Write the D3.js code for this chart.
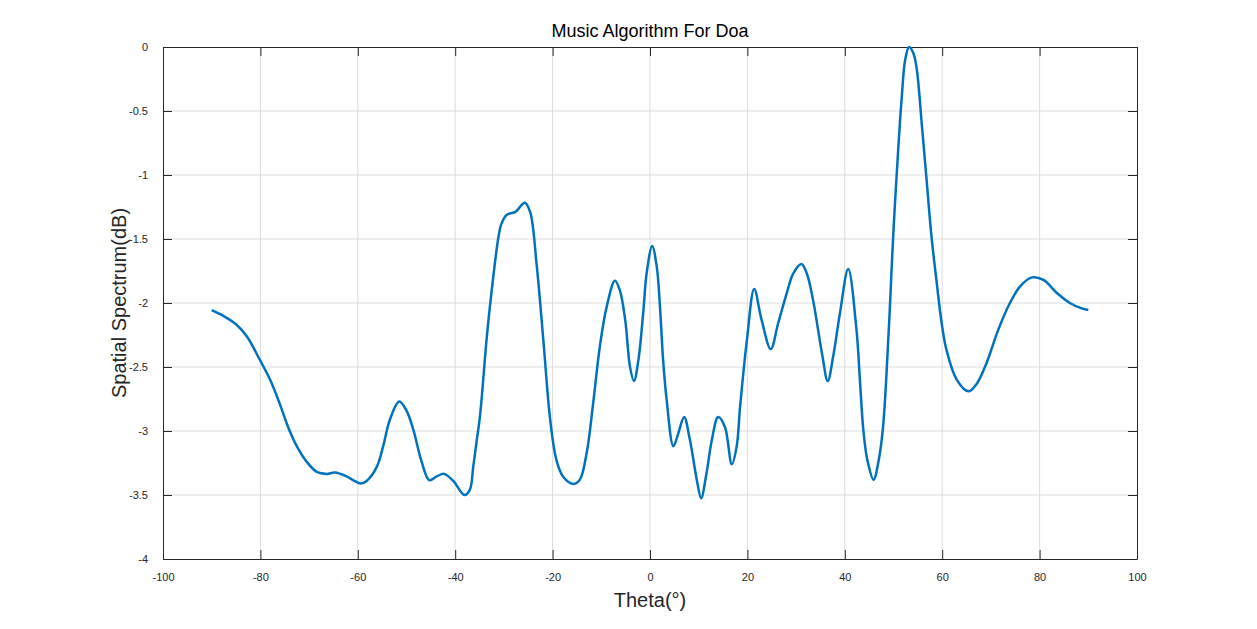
<!DOCTYPE html>
<html>
<head>
<meta charset="utf-8">
<script src="https://cdn.jsdelivr.net/npm/d3@7"></script>
<style>
  body { margin: 0; background: #fff; }
  text { font-family: "Liberation Sans", Arial, sans-serif; }
</style>
</head>
<body>
<div id="chart"></div>
<script>
// spectrum values (theta in degrees, value in dB)
const theta = [-90, -87.6, -84.9, -82.8, -80.1, -78, -76, -74.3, -72.5, -70.5, -68.4, -66.4, -64.7, -62.3,
  -60.9, -59.4, -58.2, -56.1, -54.8, -53.4, -51.5, -50, -48.6, -46.9, -45.3, -43.8, -42.3, -40.4, -38.1,
  -37, -36.3, -35.6, -34.9, -33.5, -32.5, -31.1, -30.5, -29.4, -27.7, -25.7, -24.6, -23.3, -21.9, -20.5,
  -19.2, -17.8, -15.7, -14.4, -13, -11.6, -10.3, -8.9, -7.2, -6.2, -5.1, -4.1, -3.3, -2.4, -1.4, -0.7,
  0.45, 1.4, 2.05, 2.7, 3.4, 4.8, 5.8, 7, 8.2, 9.6, 10.5, 11.6, 12.7, 14, 15.4, 16.8, 17.8, 18.5, 19.9,
  21.4, 22.9, 24.8, 26.3, 28.1, 29.4, 31.1, 32.2, 33.5, 35.3, 36.5, 37.6, 39, 40.7, 42.4, 43.1, 43.8,
  44.6, 45.9, 47.0, 47.8, 48.5, 49.2, 50, 51, 51.7, 52.4, 53.2, 54.1, 54.8, 55.8, 56.8, 57.8, 58.9, 59.9,
  60.9, 63, 65.4, 67.1, 69.1, 71.5, 73.9, 76, 78.4, 80.8, 83.5, 86.2, 88.5, 90];
const spectrum = [-2.055, -2.1, -2.17, -2.26, -2.445, -2.6, -2.79, -2.97, -3.12, -3.24, -3.32, -3.335, -3.325, -3.355,
  -3.385, -3.41, -3.39, -3.28, -3.12, -2.91, -2.77, -2.84, -2.99, -3.24, -3.385, -3.355, -3.335, -3.39, -3.5,
  -3.46, -3.28, -3.08, -2.88, -2.26, -1.9, -1.48, -1.38, -1.31, -1.29, -1.216, -1.29, -1.69, -2.29, -2.91,
  -3.23, -3.36, -3.414, -3.38, -3.17, -2.76, -2.34, -2.03, -1.826, -1.9, -2.13, -2.5, -2.61, -2.45, -2.08, -1.77,
  -1.555, -1.72, -2.03, -2.45, -2.75, -3.12, -3.02, -2.89, -3.07, -3.38, -3.525, -3.33, -3.07, -2.89, -2.97, -3.26, -3.12, -2.81, -2.29,
  -1.89, -2.13, -2.36, -2.16, -1.92, -1.77, -1.695, -1.77, -1.98, -2.39, -2.61, -2.42, -2.08, -1.735, -2.21, -2.6, -2.99,
  -3.22, -3.38, -3.22, -2.99, -2.6, -2.08, -1.43, -0.78, -0.39, -0.1, 0, -0.05, -0.18, -0.6, -1.04, -1.48, -1.85, -2.16,
  -2.37, -2.6, -2.69, -2.63, -2.47, -2.21, -2.0, -1.87, -1.8, -1.82, -1.92, -2.0, -2.04, -2.055];
const xTicks = [-100, -80, -60, -40, -20, 0, 20, 40, 60, 80, 100];
const yTicks = [0, -0.5, -1, -1.5, -2, -2.5, -3, -3.5, -4];

const W = 1257, H = 629;
const margin = { top: 47, right: 120, bottom: 70, left: 163 };
const width = W - margin.left - margin.right,
  height = H - margin.top - margin.bottom;

const data = theta.map((t, i) => ({ t: t, v: spectrum[i] }));

const svg = d3.select("#chart").append("svg")
  .attr("width", W)
  .attr("height", H);

const g = svg.append("g")
  .attr("transform", "translate(" + margin.left + "," + margin.top + ")");

const x = d3.scaleLinear().domain([-100, 100]).range([0, width]);
const y = d3.scaleLinear().domain([-4, 0]).range([height, 0]);

// grid
g.append("g").selectAll("line")
  .data(xTicks.slice(1, -1))
  .enter().append("line")
  .attr("x1", d => x(d)).attr("x2", d => x(d))
  .attr("y1", 0).attr("y2", height)
  .attr("stroke", "#dcdcdc").attr("stroke-width", 1);
g.append("g").selectAll("line")
  .data(yTicks.slice(1, -1))
  .enter().append("line")
  .attr("x1", 0).attr("x2", width)
  .attr("y1", d => y(d)).attr("y2", d => y(d))
  .attr("stroke", "#dcdcdc").attr("stroke-width", 1);

// axes with inward ticks on all sides
const tickLen = 9;
function styleAxis(sel) {
  sel.select(".domain").attr("stroke", "#262626");
  sel.selectAll(".tick line").attr("stroke", "#262626");
  sel.selectAll(".tick text").attr("fill", "#262626").style("font-size", "11px");
}
g.append("g")
  .attr("transform", "translate(0," + height + ")")
  .call(d3.axisBottom(x).tickValues(xTicks).tickSize(-tickLen).tickPadding(14).tickSizeOuter(0).tickFormat(d => String(d)))
  .call(styleAxis);
g.append("g")
  .call(d3.axisLeft(y).tickValues(yTicks).tickSize(-tickLen).tickPadding(15).tickSizeOuter(0).tickFormat(d => String(d)))
  .call(styleAxis);
g.append("g")
  .call(d3.axisTop(x).tickValues(xTicks).tickSize(-tickLen).tickSizeOuter(0).tickFormat(""))
  .call(styleAxis);
g.append("g")
  .attr("transform", "translate(" + width + ",0)")
  .call(d3.axisRight(y).tickValues(yTicks).tickSize(-tickLen).tickSizeOuter(0).tickFormat(""))
  .call(styleAxis);

// curve
const line = d3.line()
  .x(d => x(d.t))
  .y(d => y(d.v))
  .curve(d3.curveCatmullRom.alpha(0.5));

g.append("path")
  .datum(data)
  .attr("fill", "none")
  .attr("stroke", "#0072BD")
  .attr("stroke-width", 2.5)
  .attr("d", line);

// title and labels
svg.append("text")
  .attr("x", margin.left + width / 2)
  .attr("y", 37)
  .attr("text-anchor", "middle")
  .attr("fill", "#000")
  .style("font-size", "18px")
  .text("Music Algorithm For Doa");

svg.append("text")
  .attr("x", margin.left + width / 2)
  .attr("y", 607)
  .attr("text-anchor", "middle")
  .attr("fill", "#262626")
  .style("font-size", "20px")
  .text("Theta(°)");

svg.append("text")
  .attr("transform", "translate(126," + (margin.top + height / 2) + ") rotate(-90)")
  .attr("text-anchor", "middle")
  .attr("fill", "#262626")
  .style("font-size", "20px")
  .text("Spatial Spectrum(dB)");
</script>
</body>
</html>
